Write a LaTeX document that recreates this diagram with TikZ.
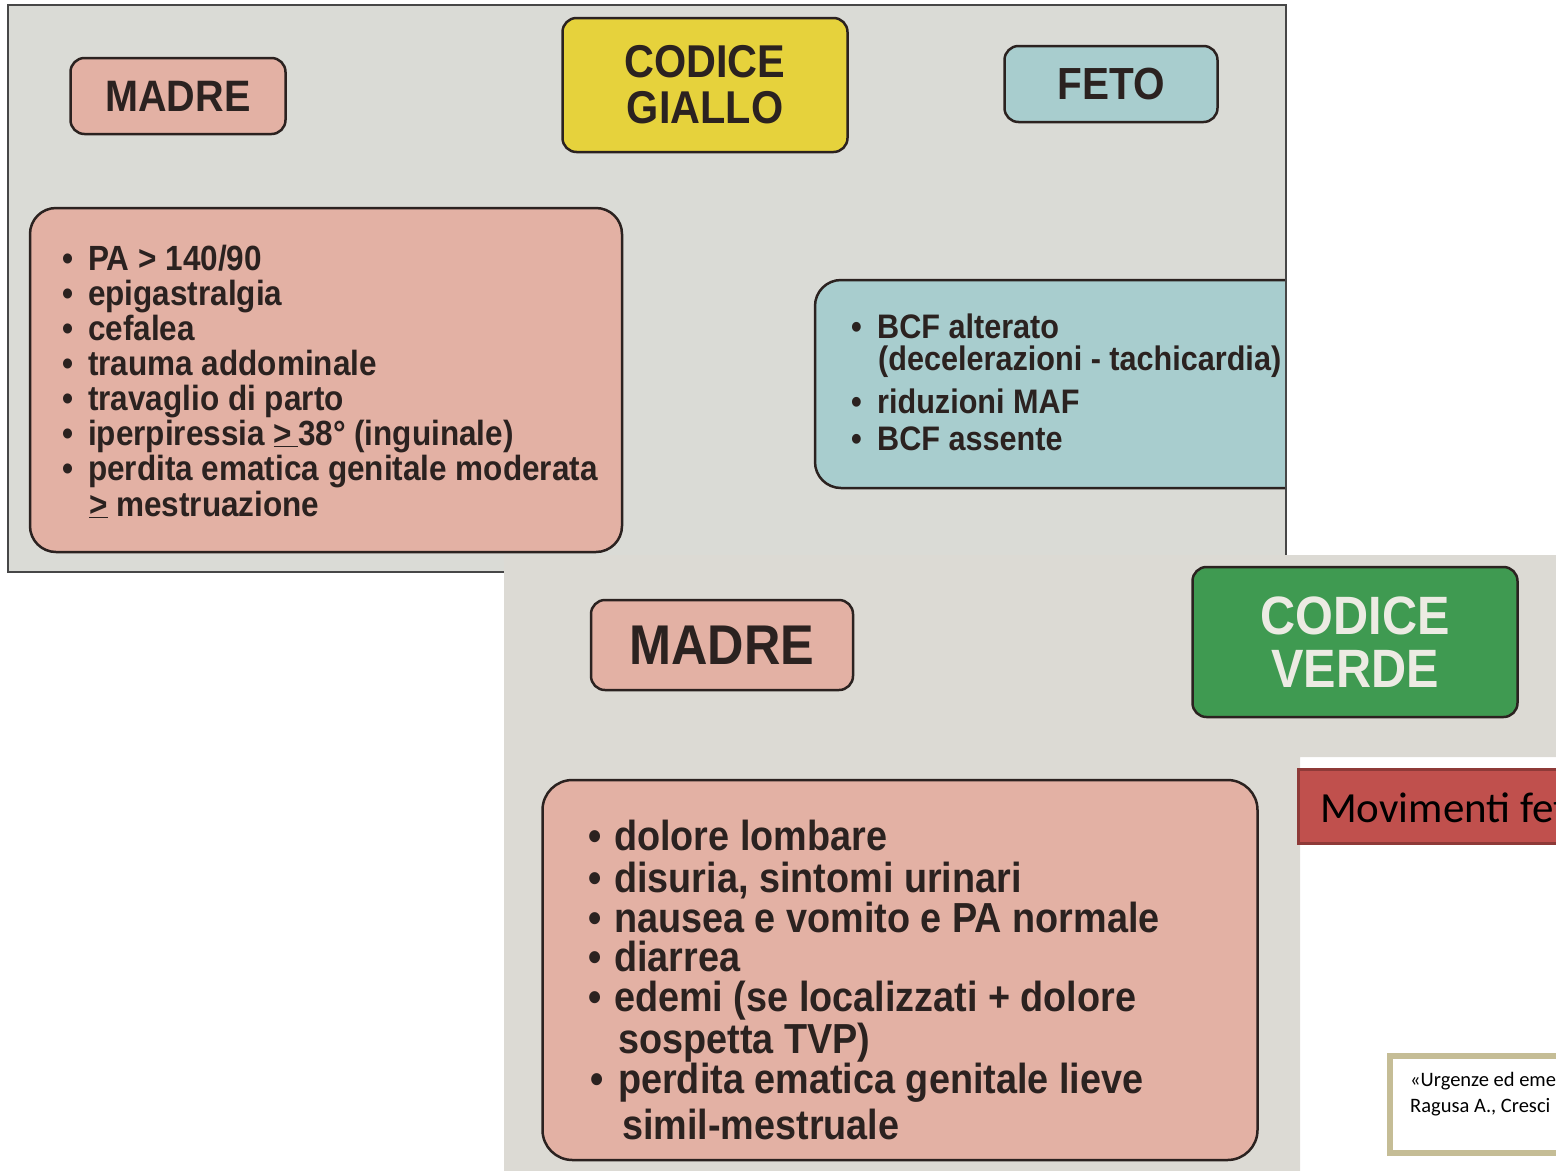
\documentclass[tikz,border=0pt]{standalone}
\usepackage{fontspec}
\setmainfont{Liberation Sans}
\newfontfamily\bookfont[FakeStretch=0.9]{Liberation Sans}
\newfontfamily\slidefont{Carlito}
\definecolor{paperA}{HTML}{DADBD6}
\definecolor{paperB}{HTML}{DCDAD4}
\definecolor{framec}{HTML}{474747}
\definecolor{inkc}{HTML}{2B2220}
\definecolor{pinkc}{HTML}{E3B1A4}
\definecolor{yellowc}{HTML}{E6D23C}
\definecolor{bluec}{HTML}{A8CDCE}
\definecolor{greenc}{HTML}{3F9A51}
\definecolor{verdetext}{HTML}{ECEBE3}
\definecolor{slidered}{HTML}{C0504D}
\definecolor{slidereddark}{HTML}{8E3A38}
\definecolor{khaki}{HTML}{C5BD96}
\begin{document}
\begin{tikzpicture}[x=1pt,y=-1pt,
  tagbox/.style={draw=inkc, line width=2.5pt, rounded corners=14pt, inner sep=0pt, text=inkc, align=center},
  listbox/.style={draw=inkc, line width=2.5pt, rounded corners=26pt, inner sep=0pt},
  itemA/.style={anchor=base west, inner sep=0pt, text=inkc, font={\bookfont\bfseries\fontsize{35}{35}\selectfont}},
  itemF/.style={anchor=base west, inner sep=0pt, text=inkc, font={\bookfont\bfseries\fontsize{34}{34}\selectfont}},
  itemB/.style={anchor=base west, inner sep=0pt, text=inkc, font={\bookfont\bfseries\fontsize{42}{42}\selectfont}}
]
\useasboundingbox (0,0) rectangle (1556,1171);
\clip (0,0) rectangle (1556,1171);

% ---------- top photo ----------
\begin{scope}
\clip (8,5) rectangle (1286,572);
\fill[paperA] (8,5) rectangle (1286,572);
\node[tagbox, fill=pinkc, minimum width=215pt, minimum height=76pt,
  font={\bookfont\bfseries\fontsize{44}{44}\selectfont}] (madreA) at (178,96) {MADRE};
\node[tagbox, fill=yellowc, minimum width=285pt, minimum height=134pt,
  font={\bookfont\bfseries\fontsize{46}{46}\selectfont}] (giallo) at (705,85) {CODICE\\GIALLO};
\node[tagbox, fill=bluec, minimum width=213pt, minimum height=76pt,
  font={\bookfont\bfseries\fontsize{45}{45}\selectfont}] (feto) at (1111,84) {FETO};
\node[listbox, fill=pinkc, minimum width=592pt, minimum height=344pt] (listA) at (326,380) {};
\node[listbox, fill=bluec, minimum width=500pt, minimum height=208pt] (listF) at (1065,384) {};
\node[itemA] (a1) at (62,270) {\makebox[26pt][l]{•}PA > 140/90};
\node[itemA] (a2) at (62,305) {\makebox[26pt][l]{•}epigastralgia};
\node[itemA] (a3) at (62,340) {\makebox[26pt][l]{•}cefalea};
\node[itemA] (a4) at (62,375) {\makebox[26pt][l]{•}trauma addominale};
\node[itemA] (a5) at (62,410) {\makebox[26pt][l]{•}travaglio di parto};
\node[itemA] (a6) at (62,445) {\makebox[26pt][l]{•}iperpiressia \underline{>\,}38° (inguinale)};
\node[itemA] (a7) at (62,480) {\makebox[26pt][l]{•}perdita ematica genitale moderata};
\node[itemA] (a8) at (89,516) {\underline{>} mestruazione};
\node[itemF] (f1) at (851,338) {\makebox[26pt][l]{•}BCF alterato};
\node[itemF] (f2) at (878,370) {(decelerazioni - tachicardia)};
\node[itemF] (f3) at (851,413) {\makebox[26pt][l]{•}riduzioni MAF};
\node[itemF] (f4) at (851,450) {\makebox[26pt][l]{•}BCF assente};
\end{scope}
\draw[framec, line width=2pt] (8,5) rectangle (1286,572);

% ---------- bottom photo ----------
\begin{scope}
\clip (504,555) -- (1556,555) -- (1556,757) -- (1300,757) -- (1300,1171) -- (504,1171) -- cycle;
\fill[paperB] (504,555) rectangle (1556,1171);
\node[tagbox, fill=pinkc, minimum width=262pt, minimum height=90pt,
  font={\bookfont\bfseries\fontsize{56}{56}\selectfont}] (madreB) at (722,645) {MADRE};
\node[tagbox, fill=greenc, minimum width=325pt, minimum height=150pt, text=verdetext,
  font={\bookfont\bfseries\fontsize{54}{53}\selectfont}] (verde) at (1355,642) {CODICE\\VERDE};
\node[listbox, rounded corners=30pt, fill=pinkc, minimum width=715pt, minimum height=380pt] (listB) at (900,970) {};
\node[itemB] (b1) at (588,850) {\makebox[26pt][l]{•}dolore lombare};
\node[itemB] (b2) at (588,892) {\makebox[26pt][l]{•}disuria, sintomi urinari};
\node[itemB] (b3) at (588,932) {\makebox[26pt][l]{•}nausea e vomito e PA normale};
\node[itemB] (b4) at (588,971) {\makebox[26pt][l]{•}diarrea};
\node[itemB] (b5) at (588,1011) {\makebox[26pt][l]{•}edemi (se localizzati + dolore};
\node[itemB] (b6) at (618,1053) {sospetta TVP)};
\node[itemB] (b7) at (590,1093) {\makebox[28pt][l]{•}perdita ematica genitale lieve};
\node[itemB] (b8) at (622,1139) {simil-mestruale};
\end{scope}

% ---------- slide elements ----------
\node[fill=slidered, draw=slidereddark, line width=3pt, minimum width=280pt, minimum height=74pt, inner sep=0pt] (redbox) at (1438,806) {};
\node[anchor=base west, inner sep=0pt, font={\slidefont\fontsize{43}{43}\selectfont}, text=black] (movtxt) at (1320,822) {Movimenti fet};
\node[draw=khaki, fill=white, line width=6pt, minimum width=190pt, minimum height=97pt, inner sep=0pt] (cite) at (1485,1104.5) {};
\node[anchor=base west, inner sep=0pt, font={\slidefont\fontsize{20.5}{20.5}\selectfont}, text=black] (cite1) at (1410,1086) {«Urgenze ed eme};
\node[anchor=base west, inner sep=0pt, font={\slidefont\fontsize{20.5}{20.5}\selectfont}, text=black] (cite2) at (1410,1112) {Ragusa A., Cresci};
\end{tikzpicture}
\end{document}
